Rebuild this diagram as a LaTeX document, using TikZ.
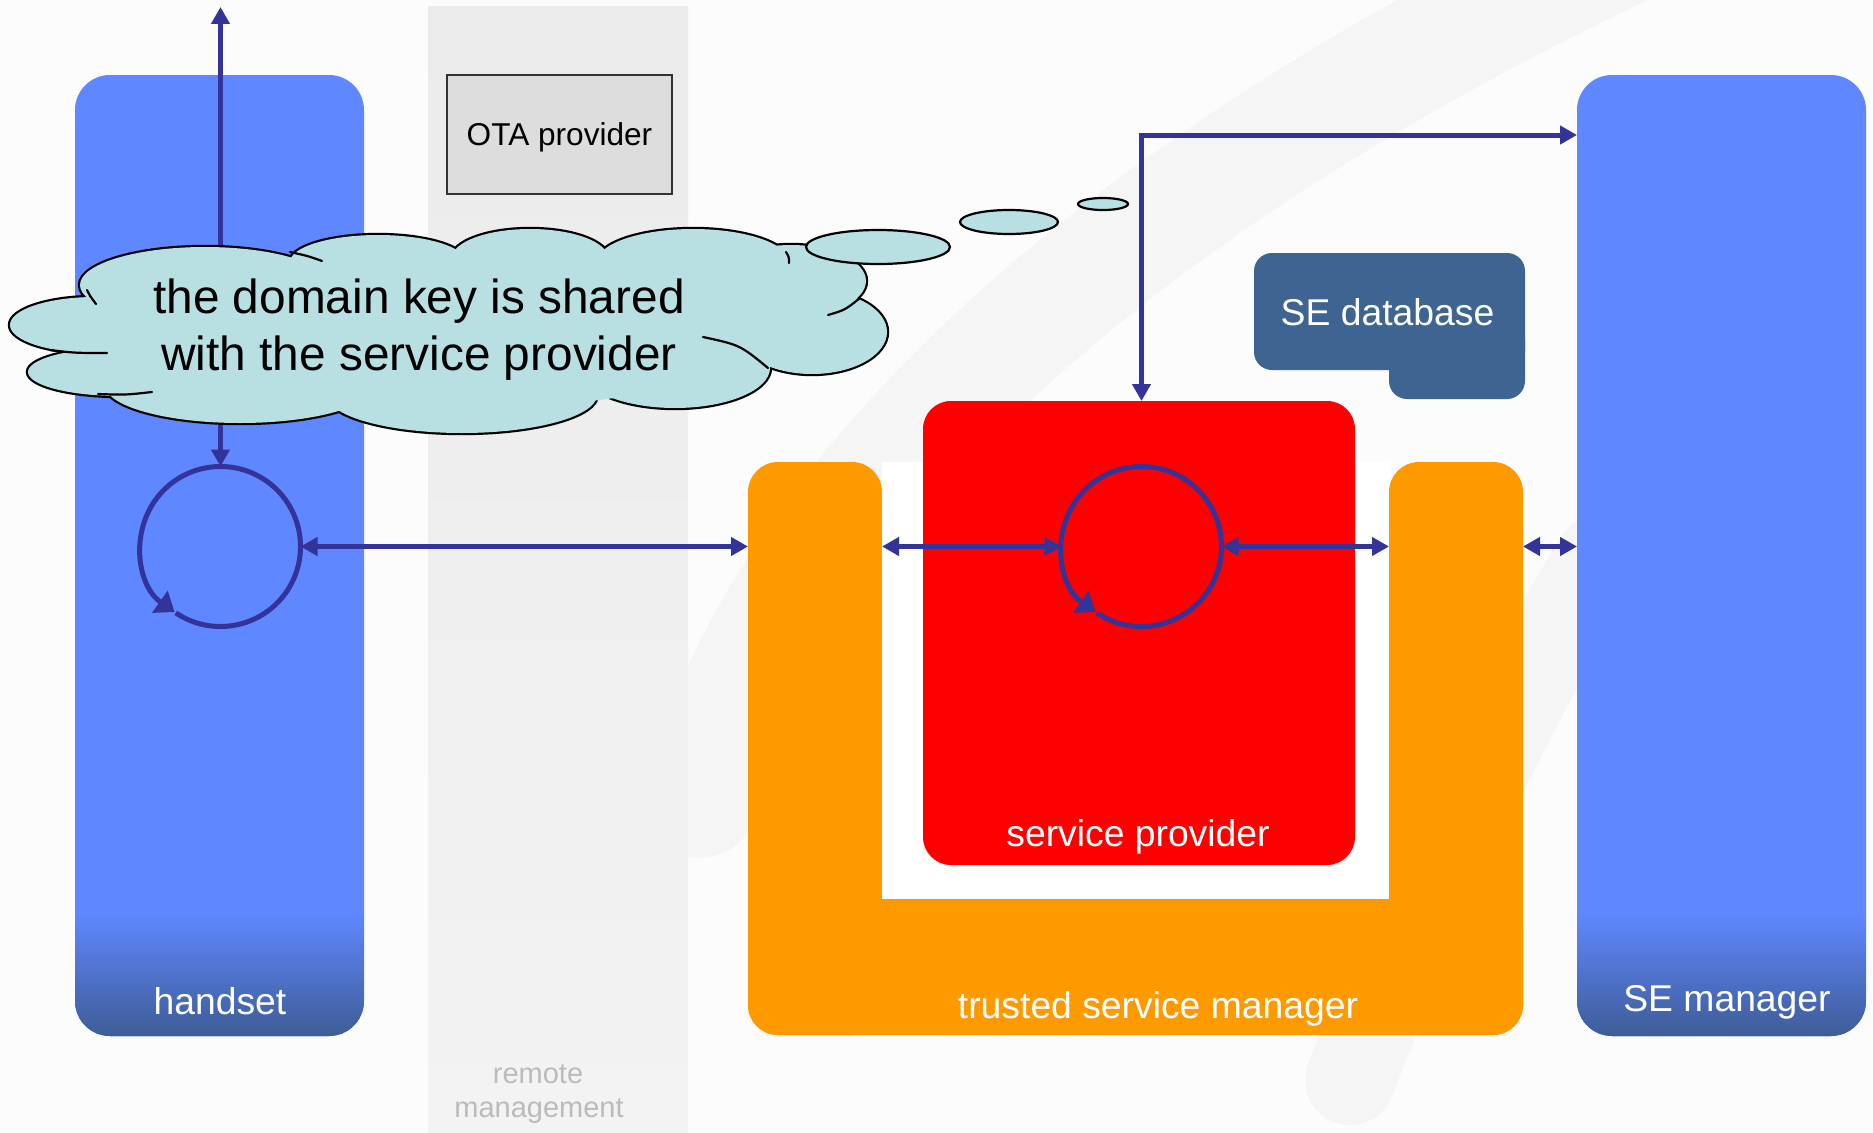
\documentclass[tikz,border=0pt]{standalone}
\usepackage{fontspec}
\setmainfont{Liberation Sans}
\usetikzlibrary{arrows.meta,calc}
\definecolor{bg}{HTML}{FCFCFC}
\definecolor{blueA}{HTML}{5F87FF}
\definecolor{blueD}{HTML}{3E5D96}
\definecolor{lineblue}{HTML}{333399}
\definecolor{orangeT}{HTML}{FD9A00}
\definecolor{redS}{HTML}{FF0000}
\definecolor{dbblue}{HTML}{3E6491}
\definecolor{cloudc}{HTML}{B8E0E3}
\definecolor{otafill}{HTML}{DDDDDD}
\definecolor{bandtop}{HTML}{EBEBEB}
\definecolor{bandbot}{HTML}{F3F3F3}
\definecolor{remotetxt}{HTML}{BBBBBB}
\definecolor{swooshc}{HTML}{F5F5F5}
\begin{document}
\begin{tikzpicture}[x=1pt,y=-1pt,
  panel/.style={rectangle, rounded corners=35pt, fill=blueA, inner sep=0pt, outer sep=0pt,
    minimum width=289pt, minimum height=961pt},
  tsmpart/.style={rectangle, rounded corners=30pt, fill=orangeT, inner sep=0pt, outer sep=0pt},
  spbox/.style={rectangle, rounded corners=28pt, fill=redS, inner sep=0pt, outer sep=0pt},
  dbpart/.style={rectangle, rounded corners=18pt, fill=dbblue, inner sep=0pt, outer sep=0pt},
  otabox/.style={rectangle, draw=black!80, line width=2pt, fill=otafill, inner sep=0pt,
    minimum width=225pt, minimum height=119pt, text depth=0pt,
    font=\fontsize{31.6}{38}\selectfont},
  hub/.style={circle, minimum size=160pt, inner sep=0pt, outer sep=0pt},
  ring/.style={draw=lineblue, line width=5pt, -{Triangle[length=18pt,width=26pt]}},
  conn/.style={draw=lineblue, line width=5pt, {Triangle[length=17pt,width=18pt]}-{Triangle[length=17pt,width=18pt]}},
  whitelab/.style={text=white, font=\fontsize{37.3}{44}\selectfont, anchor=base, inner sep=0pt},
  cloudlab/.style={text=black, font=\fontsize{47.8}{57}\selectfont, anchor=base, inner sep=0pt},
  remotelab/.style={text=remotetxt, font=\fontsize{29}{34}\selectfont, anchor=base, inner sep=0pt},
  bubble/.style={draw=black, line width=2.2pt, fill=cloudc},
  stub/.style={draw=black, line width=2.2pt, line cap=round}
]
\useasboundingbox (0,0) rectangle (1873,1132);
\fill[bg] (0,0) rectangle (1873,1132);
% faint watermark swoosh
\draw[swooshc, line width=115pt, line cap=round] (1640,-60) .. controls (1150,170) and (790,470) .. (700,800);
\draw[swooshc, line width=90pt, line cap=round] (1350,1080) .. controls (1420,900) and (1500,720) .. (1600,560);
% remote management band
\shade[top color=bandtop, bottom color=bandbot] (428,7) rectangle (688,1132);
\node[otabox] (ota) at (559.5,134.5) {OTA provider};
\node[remotelab] (rm1) at (538,1083) {remote};
\node[remotelab] (rm2) at (539,1117) {management};
% handset and SE manager
\node[panel] (handset) at (219.5,555.5) {};
\node[panel] (sem) at (1721.5,555.5) {};
\foreach \pn in {handset, sem}{
  \begin{scope}
    \clip[rounded corners=35pt] (\pn.north west) rectangle (\pn.south east);
    \foreach \i in {0,...,41}{
      \pgfmathsetmacro\pc{\i*100/41}
      \pgfmathsetmacro\ya{913+3*\i}
      \pgfmathsetmacro\yb{917+3*\i}
      \fill[blueD!\pc!blueA] (\pn.west |- 0,\ya) rectangle (\pn.east |- 0,\yb);
    }
  \end{scope}
}
\node[whitelab] (hslab) at (220,1014) {handset};
\node[whitelab] (semlab) at (1727,1011) {SE manager};
% trusted service manager (U shape)
\node[tsmpart, minimum width=775pt, minimum height=136pt] (tsmB) at (1135.5,967) {};
\node[tsmpart, minimum width=134pt, minimum height=573pt] (tsmL) at (815,748.5) {};
\node[tsmpart, minimum width=134pt, minimum height=573pt] (tsmR) at (1456,748.5) {};
\fill[white] (tsmL.north east) rectangle (tsmR.west |- tsmB.north);
\node[whitelab] (tsmlab) at (1158,1018) {trusted service manager};
% service provider
\node[spbox, minimum width=432pt, minimum height=464pt] (sp) at (1139,633) {};
\node[whitelab] (splab) at (1138,846) {service provider};
% SE database
\node[dbpart, minimum width=136pt, minimum height=79pt] (sedbx) at (1457,359.5) {};
\node[dbpart, minimum width=271pt, minimum height=117pt] (sedb) at (1389.5,311.5) {};
\node[whitelab] (sedblab) at (1387.5,325) {SE database};
% key hubs
\node[hub] (hc) at (220.5,546.5) {};
\node[hub] (sc) at (1141.5,546.5) {};
\draw[ring] ($(hc.center)+(124:80)$) arc[start angle=124, end angle=-235, radius=80];
\draw[ring] ($(sc.center)+(124:80)$) arc[start angle=124, end angle=-235, radius=80];
% connectors
\coordinate (hstop) at (220.5,7);
\coordinate (bend) at (1141.5,135);
\draw[conn] (hstop) -- (hc.north);
\draw[conn] (hc.east) -- (tsmL.west |- hc.east);
\draw[conn] (tsmL.east |- sc.west) -- (sc.west);
\draw[conn] (sc.east) -- (tsmR.west |- sc.east);
\draw[conn] (tsmR.east |- sc.east) -- (sem.west |- sc.east);
\draw[conn] (sc |- sp.north) -- (bend) -- (sem.west |- bend);
% thought cloud
\foreach \cx/\cy/\rx/\ry in {95/325/85/28, 120/372/92/24, 240/385/135/38, 462/395/135/38,
  675/368/95/40, 812/332/75/42, 791/281/75/36, 693/262/96/33, 530/258/78/29,
  378/262/88/27, 205/285/125/38}
  \draw[line width=4.4pt, fill=cloudc] (\cx,\cy) ellipse[x radius=\rx, y radius=\ry];
\foreach \cx/\cy/\rx/\ry in {95/325/85/28, 120/372/92/24, 240/385/135/38, 462/395/135/38,
  675/368/95/40, 812/332/75/42, 791/281/75/36, 693/262/96/33, 530/258/78/29,
  378/262/88/27, 205/285/125/38, 440/330/330/80}
  \fill[cloudc] (\cx,\cy) ellipse[x radius=\rx, y radius=\ry];
% inner arc stubs of the cloud outline
\draw[stub] (87,290) .. controls (90,296) .. (96,304);
\draw[stub] (50,350) .. controls (75,353) .. (107,353);
\draw[stub] (98,394) .. controls (125,395) .. (152,392);
\draw[stub] (290,252) .. controls (308,256) .. (322,261);
\draw[stub] (786,252) .. controls (789,257) .. (789,263);
\draw[stub] (828,315) .. controls (845,310) .. (860,298);
\draw[stub] (703,337) .. controls (740,345) .. (768,368);
\draw[bubble] (878,247) ellipse[x radius=72, y radius=17];
\draw[bubble] (1009,222) ellipse[x radius=49, y radius=12];
\draw[bubble] (1103,204) ellipse[x radius=25, y radius=6];
\node[cloudlab] (cl1) at (419,313) {the domain key is shared};
\node[cloudlab] (cl2) at (419,370) {with the service provider};
\end{tikzpicture}
\end{document}
